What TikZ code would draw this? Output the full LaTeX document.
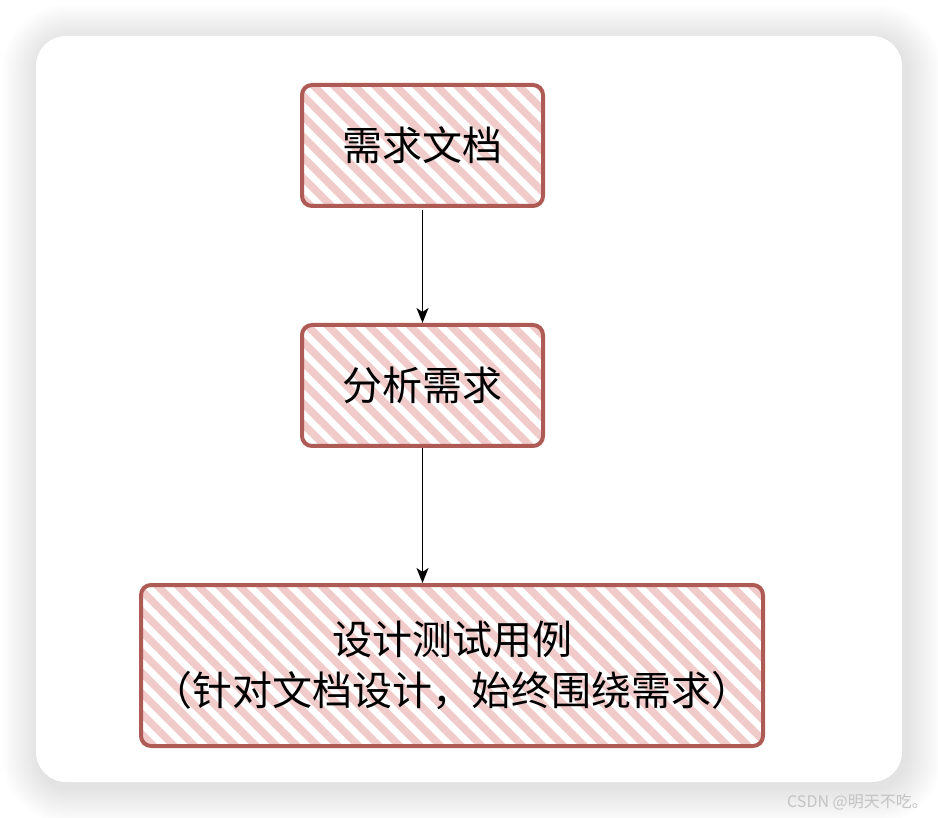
\documentclass[tikz,border=0pt]{standalone}
\usepackage{fontspec}
\setmainfont{Noto Sans CJK SC}
\usetikzlibrary{patterns.meta,arrows.meta}
\definecolor{boxline}{HTML}{AE5A55}
\definecolor{hatch}{HTML}{F1CBCA}
\definecolor{wm}{HTML}{C4C4C4}
\tikzset{
  box/.style={draw=boxline, line width=4pt, rounded corners=10pt,
    pattern={Lines[angle=-45,distance=14.5pt,line width=7.5pt]}, pattern color=hatch,
    inner sep=0pt, align=center, font=\fontsize{40}{51}\selectfont},
  conn/.style={line width=1.8pt, -{Stealth[length=15pt,width=12pt,inset=4pt]}},
}
\begin{document}
\begin{tikzpicture}[x=1pt,y=-1pt]
\useasboundingbox (0,0) rectangle (938,818);
\fill[white] (0,0) rectangle (938,818);
% soft shadow of the card
\foreach \i in {14,13,...,1}{
  \fill[black, opacity=0.009, rounded corners={(30+2.6*\i)*1pt}]
    ({36-2.6*\i+3},{36-2.6*\i+5}) rectangle ({902+2.6*\i+3},{782+2.6*\i+5});
}
\fill[white, rounded corners=30pt] (36,36) rectangle (902,782);
% boxes
\node[box, minimum width=241pt, minimum height=121pt] (a) at (422.5,145.5) {需求文档};
\node[box, minimum width=241pt, minimum height=121pt] (b) at (422.5,385.5) {分析需求};
\node[box, minimum width=622pt, minimum height=161pt] (c) at (452,665.5)
  {设计测试用例\\（针对文档设计，始终围绕需求）};
% connectors
\draw[conn] (a.south) -- (b.north);
\draw[conn] (b.south) -- (b.south |- c.north);
% watermark
\node[anchor=east, text=wm, font=\fontsize{16}{18}\selectfont, inner sep=0pt] (wm) at (928,802) {CSDN @明天不吃。};
\end{tikzpicture}
\end{document}
